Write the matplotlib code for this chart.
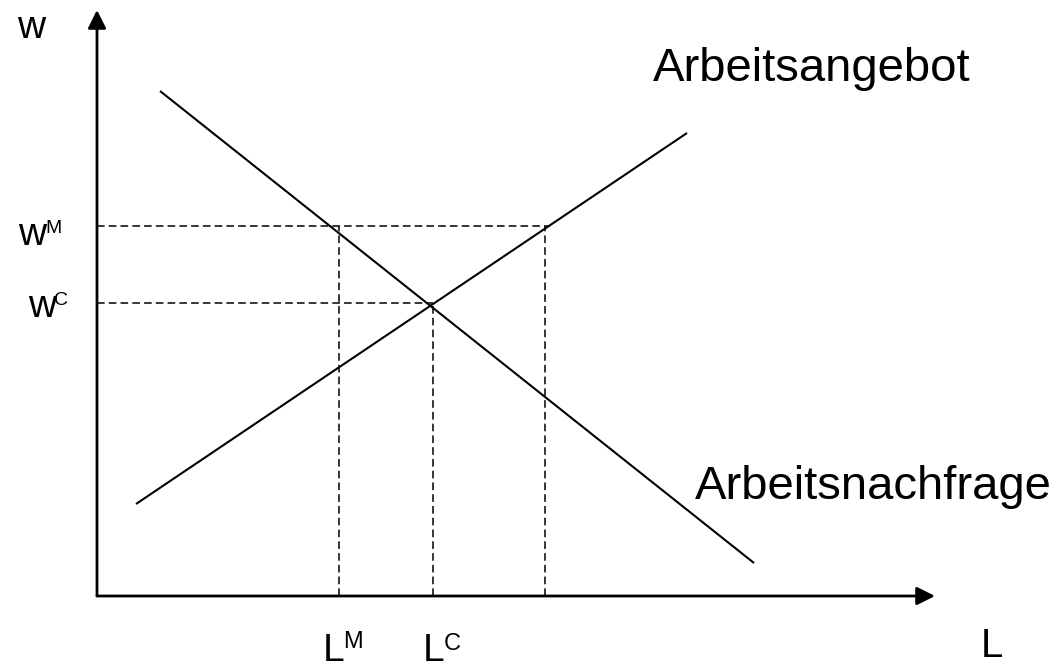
import matplotlib
matplotlib.use("Agg")
import matplotlib.pyplot as plt

# ---- data (economic units) ----
supply_L = [3.9, 59.0]
supply_w = [9.2, 46.3]
demand_L = [6.3, 65.7]
demand_w = [50.5, 3.3]

w_M = 37.0
w_C = 29.3
L_M = 24.2
L_C = 33.6
L_S = 44.8          # supply at w_M
w_M_end = 45.3      # end of horizontal dashed line at w_M

x_axis_end = 83.8
y_axis_end = 58.6

supply_label = "Arbeitsangebot"
demand_label = "Arbeitsnachfrage"

# ---- figure ----
W, H = 1062, 669
fig = plt.figure(figsize=(W / 100, H / 100), dpi=100)
ax = fig.add_axes([0, 0, 1, 1])
ox, oy = 97, 596  # pixel position of origin
ax.set_xlim((0 - ox) / 10, (W - ox) / 10)
ax.set_ylim((oy - H) / 10, oy / 10)
ax.axis("off")


def px(x, y):
    return ((x - ox) / 10, (oy - y) / 10)


font = "Liberation Sans"

# axes with arrows
arrow = dict(arrowstyle="-|>,head_length=1.1,head_width=0.55", lw=2.0,
             color="black", shrinkA=0, shrinkB=0)
ax.annotate("", xy=(0, y_axis_end), xytext=(0, 0), arrowprops=arrow)
ax.annotate("", xy=(x_axis_end, 0), xytext=(0, 0), arrowprops=arrow)

# supply and demand
ax.plot(supply_L, supply_w, color="black", lw=1.5, solid_capstyle="butt")
ax.plot(demand_L, demand_w, color="black", lw=1.5, solid_capstyle="butt")

# dashed helper lines
ds = dict(color="black", lw=1.1, linestyle=(0, (5, 2.7)))
ax.plot([0, w_M_end], [w_M, w_M], **ds)
ax.plot([0, L_C], [w_C, w_C], **ds)
ax.plot([L_M, L_M], [0, w_M], **ds)
ax.plot([L_C, L_C], [0, w_C], **ds)
ax.plot([L_S, L_S], [0, w_M], **ds)

# labels
def t(x, y, s, size):
    ax.text(*px(x, y), s, fontsize=size, family=font, ha="left", va="baseline")

t(17, 38, "w", 28)
t(18, 245, "w", 28)
t(45, 233, "M", 14)
t(28, 317, "w", 28)
t(54, 305, "C", 14)
t(323, 661, "L", 28)
t(343, 648, "M", 17)
t(423, 661, "L", 28)
t(444, 650, "C", 17)
t(981, 657, "L", 29)
t(653, 81, supply_label, 34)
t(695, 499, demand_label, 34)

fig.savefig("out.png", dpi=100)
